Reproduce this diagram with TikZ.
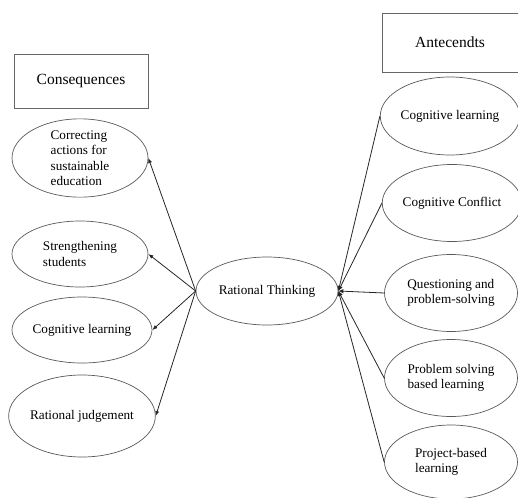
\documentclass[tikz,border=0pt]{standalone}
\usepackage{fontspec}
\setmainfont{Liberation Serif}
\usetikzlibrary{shapes.geometric,arrows.meta}
\tikzset{
  oval/.style={draw=black!65, line width=0.7pt, ellipse, inner sep=0pt, align=left,
    font=\fontsize{13.2}{15.5}\selectfont, text=black},
  headbox/.style={draw=black!60, line width=0.7pt, rectangle, inner sep=0pt,
    font=\fontsize{15.5}{18}\selectfont},
  conn/.style={draw=black!85, line width=0.8pt, -{Latex[length=5pt,width=4pt]}},
  connin/.style={draw=black!85, line width=0.8pt, -{Latex[length=5pt,width=4.5pt]}}
}
\begin{document}
\begin{tikzpicture}[x=1pt,y=-1pt]
\useasboundingbox (0,0) rectangle (518,497);
% heading boxes
\node[headbox, minimum width=134pt, minimum height=54pt] (cons) at (81,81) {Consequences};
\node[headbox, minimum width=136pt, minimum height=59pt] (ante) at (450,42.5) {Antecendts};
% centre
\node[oval, minimum width=142pt, minimum height=68pt, align=center] (c) at (267,291) {Rational Thinking};
% left ellipses
\node[oval, minimum width=136pt, minimum height=77pt] (e1) at (80,158) {Correcting\\actions for\\sustainable\\education};
\node[oval, minimum width=136pt, minimum height=66pt] (e2) at (80,254) {Strengthening\\students};
\node[oval, minimum width=140pt, minimum height=66pt] (e3) at (82,330) {Cognitive learning};
\node[oval, minimum width=144pt, minimum height=82pt] (e4) at (82,416) {Rational judgement};
% right ellipses
\node[oval, minimum width=134pt, minimum height=78pt] (r1) at (450,116) {Cognitive learning};
\node[oval, minimum width=131pt, minimum height=77pt] (r2) at (452,203) {Cognitive Conflict};
\node[oval, minimum width=133pt, minimum height=77pt] (r3) at (451,293) {Questioning and\\problem-solving};
\node[oval, minimum width=133pt, minimum height=77pt] (r4) at (451,378) {Problem solving\\based learning};
\node[oval, minimum width=133pt, minimum height=74pt] (r5) at (451,462) {Project-based\\learning};
% connectors
\draw[conn] (c.west) -- (e1.east);
\draw[conn] (c.west) -- (e2.east);
\draw[conn] (c.west) -- (e3.east);
\draw[conn] (c.west) -- (e4.east);
\draw[connin] (r1.west) -- (c.east);
\draw[connin] (r2.west) -- (c.east);
\draw[connin] (r3.west) -- (c.east);
\draw[connin] (r4.west) -- (c.east);
\draw[connin] (r5.west) -- (c.east);
\end{tikzpicture}
\end{document}
